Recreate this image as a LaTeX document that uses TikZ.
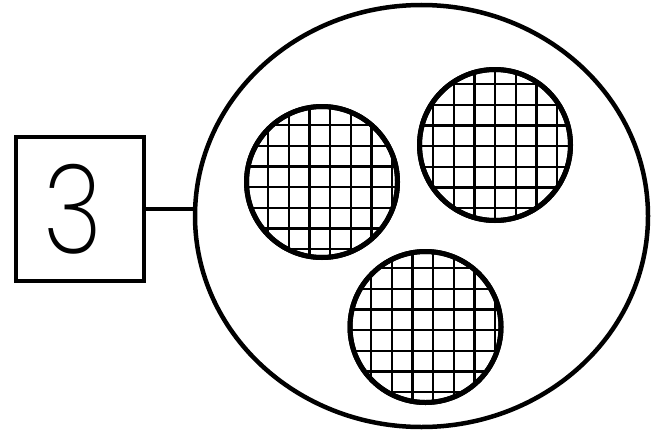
\documentclass[tikz,border=0pt]{standalone}
\usepackage{fontspec}
\newfontfamily\numfont{Poppins}[UprightFont={* ExtraLight}, FakeStretch=0.82]
\usetikzlibrary{shapes.geometric}

\tikzset{
  numbox/.style={rectangle, draw, line width=4.5pt, minimum width=128pt, minimum height=144pt, inner sep=0pt, font=\numfont\fontsize{124}{124}\selectfont},
  plate/.style={ellipse, draw, line width=4.5pt, minimum width=453pt, minimum height=422pt, inner sep=0pt},
  grain/.style={circle, draw, line width=5pt, minimum size=151pt, inner sep=0pt},
  mesh/.style={line width=2.2pt}
}

\begin{document}
\begin{tikzpicture}[x=1pt, y=-1pt]
                    \useasboundingbox (0,0) rectangle (652,439);
                    % Nodes
                    \node[numbox] (3) at (80,209) {\hspace*{-14pt}3};
                    \node[plate] (dish) at (421.5,216) {};
                    \node[grain] (a) at (322,182) {};
                    \node[grain] (b) at (495,145) {};
                    \node[grain] (c) at (425.5,327) {};
                    % Grids
                    \begin{scope}
                      \clip (a) circle (75pt);
                      \foreach \k in {-4,...,4} {
                        \draw[mesh] (322+8.1+20.7*\k, 100) -- (322+8.1+20.7*\k, 264);
                        \draw[mesh] (240, 182+5.1+20.7*\k) -- (404, 182+5.1+20.7*\k);
                      }
                    \end{scope}
                    \begin{scope}
                      \clip (b) circle (75pt);
                      \foreach \k in {-4,...,4} {
                        \draw[mesh] (495+0.1+20.7*\k, 63) -- (495+0.1+20.7*\k, 227);
                        \draw[mesh] (413, 145+1.1+20.7*\k) -- (577, 145+1.1+20.7*\k);
                      }
                    \end{scope}
                    \begin{scope}
                      \clip (c) circle (75pt);
                      \foreach \k in {-4,...,4} {
                        \draw[mesh] (425.5+7.6+20.7*\k, 245) -- (425.5+7.6+20.7*\k, 409);
                        \draw[mesh] (343, 327+3.1+20.7*\k) -- (508, 327+3.1+20.7*\k);
                      }
                    \end{scope}
                    % Circle rims again on top
                    \node[grain] at (a) {};
                    \node[grain] at (b) {};
                    \node[grain] at (c) {};
                    % Edges
                    \draw[line width=4.5pt] (3.east) -- (3.east -| dish.west);
                \end{tikzpicture}
\end{document}
